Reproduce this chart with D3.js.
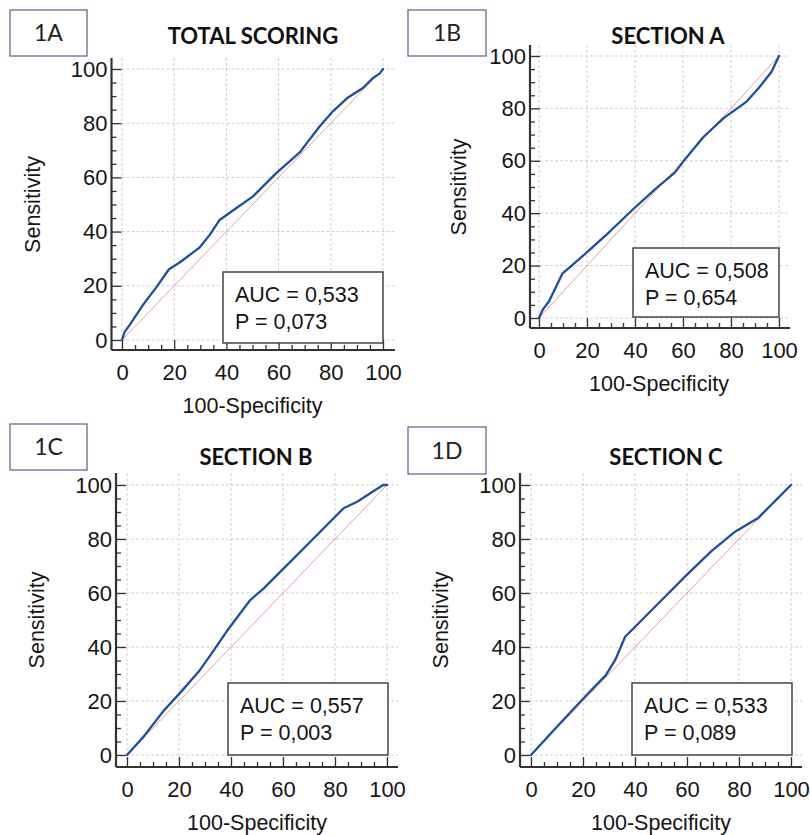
<!DOCTYPE html>
<html>
<head>
<meta charset="utf-8">
<script src="https://cdn.jsdelivr.net/npm/d3@7"></script>
<style>
  body { margin: 0; background: #fff; }
  .axis text { font-family: "Liberation Sans", Arial, sans-serif; font-size: 22px; fill: #151515; }
  .axis path.domain { display: none; }
  .axis line { stroke: #333; stroke-width: 1.3; }
  .grid line { stroke: #d0d0d0; stroke-width: 1; stroke-dasharray: 3,2; }
  .axisline { stroke: #333; stroke-width: 2.2; }
  .roc { fill: none; stroke: #1c4f9f; stroke-width: 2.3; stroke-linejoin: round; stroke-linecap: round; }
  .diag { stroke: #e2a3a3; stroke-width: 1; }
  .lbl { font-family: "Liberation Sans", Arial, sans-serif; font-size: 21.5px; fill: #151515; }
  .title { font-family: Lato, "Open Sans", sans-serif; font-weight: bold; font-size: 22px; fill: #111; }
  .tag { font-family: Lato, "Open Sans", sans-serif; font-size: 23px; fill: #222; }
  .tagbox { fill: none; stroke: #5d6f99; stroke-width: 1.3; }
  .aucbox { fill: #fff; stroke: #444; stroke-width: 1.5; }
</style>
</head>
<body>
<svg id="chart" width="810" height="835"></svg>
<script>
// panel tags and titles
const tags = ["1A", "1B", "1C", "1D"];
const titles = ["TOTAL SCORING", "SECTION A", "SECTION B", "SECTION C"];
const aucLabels = ["AUC = 0,533", "AUC = 0,508", "AUC = 0,557", "AUC = 0,533"];
const pLabels = ["P = 0,073", "P = 0,654", "P = 0,003", "P = 0,089"];
const majorTicks = [0, 20, 40, 60, 80, 100];
const xTitle = "100-Specificity";
const yTitle = "Sensitivity";

// ROC points (100-specificity, sensitivity)
const fprTotal = [0, 1, 2.9, 8, 13.2, 18, 22.1, 29.8, 33.6, 37.4, 42.5, 50.2, 59.1, 68.1, 71.3, 75.7, 80.8, 86.6, 92.3, 96.2, 98.7, 100];
const tprTotal = [0, 3, 5.5, 12.9, 19.5, 26.1, 28.6, 34.2, 38.8, 44.3, 47.8, 53, 61.6, 69.2, 73.3, 78.8, 84.4, 89.5, 93, 96.7, 98.3, 100];

const fprA = [0, 1.7, 4.2, 7.2, 9.7, 13.5, 21.1, 29.5, 39.2, 48.9, 56.6, 60.1, 68.4, 76.8, 86.5, 92, 96.9, 100];
const tprA = [0, 3.4, 6.4, 12.1, 16.9, 19.9, 26, 33, 41.5, 49.6, 55.5, 59.7, 69, 76.2, 82.6, 88.3, 94, 100];

const fprB = [0, 6.4, 14.1, 20.5, 27.6, 32.1, 38.5, 47.4, 52.6, 60.3, 70.5, 83.3, 88.5, 98.5, 100];
const tprB = [0, 6.8, 16.4, 23.1, 30.9, 37, 46, 57.4, 61.7, 69.1, 79, 91.4, 93.8, 100, 100];

const fprC = [0, 10.6, 20.2, 28.8, 32.4, 36.2, 41.4, 50.3, 59.9, 69.5, 78.5, 87.5, 100];
const tprC = [0, 11.1, 21, 29.6, 35.2, 43.8, 48.8, 57.4, 66.7, 75.6, 82.7, 87.9, 100];

const curves = [[fprTotal, tprTotal], [fprA, tprA], [fprB, tprB], [fprC, tprC]];

// layout of each panel, in page pixels
const panels = [
  {x0: 122, x1: 383, y0: 340, y1: 69, ax: 111.5, ay: 350, top: 58, right: 395, tag: [10, 10, 77, 46], titleX: 253, titleY: 44, auc: [223, 272, 160, 71], syX: 32},
  {x0: 539, x1: 779, y0: 318, y1: 56, ax: 530, ay: 328, top: 45, right: 790, tag: [408, 10, 78, 46], titleX: 668, titleY: 44, auc: [633, 248, 146, 69], syX: 458},
  {x0: 127, x1: 387, y0: 755, y1: 485, ax: 116, ay: 767, top: 473, right: 398, tag: [10, 424, 77, 46], titleX: 256, titleY: 465, auc: [228, 683, 160, 72], syX: 36},
  {x0: 531, x1: 791, y0: 755, y1: 485, ax: 520, ay: 767, top: 473, right: 802, tag: [408, 427, 78, 47], titleX: 666, titleY: 465, auc: [632, 683, 160, 72], syX: 440}
];

const svg = d3.select("#chart");
const minorTicks = d3.range(0, 101, 5).filter(v => v % 20 !== 0);

panels.forEach((p, i) => {
    const g = svg.append("g");
    const x = d3.scaleLinear().domain([0, 100]).range([p.x0, p.x1]);
    const y = d3.scaleLinear().domain([0, 100]).range([p.y0, p.y1]);

    // tag box
    g.append("rect").attr("class", "tagbox")
        .attr("x", p.tag[0]).attr("y", p.tag[1]).attr("width", p.tag[2]).attr("height", p.tag[3]);
    g.append("text").attr("class", "tag")
        .attr("x", p.tag[0] + p.tag[2] / 2).attr("y", p.tag[1] + p.tag[3] / 2 + 8)
        .attr("text-anchor", "middle").text(tags[i]);

    g.append("text").attr("class", "title")
        .attr("x", p.titleX).attr("y", p.titleY)
        .attr("text-anchor", "middle").text(titles[i]);

    // dashed grid
    const grid = g.append("g").attr("class", "grid");
    grid.selectAll(".gv").data(majorTicks).enter().append("line")
        .attr("x1", d => x(d)).attr("x2", d => x(d))
        .attr("y1", p.top).attr("y2", p.ay);
    grid.selectAll(".gh").data(majorTicks).enter().append("line")
        .attr("y1", d => y(d)).attr("y2", d => y(d))
        .attr("x1", p.ax).attr("x2", p.right);

    // axes with inward ticks
    g.append("g").attr("class", "axis")
        .attr("transform", `translate(${p.ax},0)`)
        .call(d3.axisLeft(y).tickValues(majorTicks).tickSize(-10).tickPadding(4));
    g.append("g").attr("class", "axis")
        .attr("transform", `translate(${p.ax},0)`)
        .call(d3.axisLeft(y).tickValues(minorTicks).tickSize(-5).tickFormat(""));
    g.append("g").attr("class", "axis")
        .attr("transform", `translate(0,${p.ay})`)
        .call(d3.axisBottom(x).tickValues(majorTicks).tickSize(-10).tickPadding(14));
    g.append("g").attr("class", "axis")
        .attr("transform", `translate(0,${p.ay})`)
        .call(d3.axisBottom(x).tickValues(minorTicks).tickSize(-5).tickFormat(""));

    g.append("line").attr("class", "axisline")
        .attr("x1", p.ax).attr("x2", p.ax).attr("y1", p.top).attr("y2", p.ay);
    g.append("line").attr("class", "axisline")
        .attr("x1", p.ax).attr("x2", p.right).attr("y1", p.ay).attr("y2", p.ay);

    // reference diagonal and ROC curve
    g.append("line").attr("class", "diag")
        .attr("x1", x(0)).attr("y1", y(0)).attr("x2", x(100)).attr("y2", y(100));
    const pts = curves[i][0].map((v, k) => [v, curves[i][1][k]]);
    g.append("path").datum(pts).attr("class", "roc")
        .attr("d", d3.line().x(d => x(d[0])).y(d => y(d[1])));

    // axis titles
    g.append("text").attr("class", "lbl")
        .attr("x", (p.x0 + p.x1) / 2).attr("y", p.ay + 63)
        .attr("text-anchor", "middle").text(xTitle);
    g.append("text").attr("class", "lbl")
        .attr("transform", `translate(${p.syX + 8},${(p.y0 + p.y1) / 2}) rotate(-90)`)
        .attr("text-anchor", "middle").text(yTitle);

    // AUC box
    g.append("rect").attr("class", "aucbox")
        .attr("x", p.auc[0]).attr("y", p.auc[1]).attr("width", p.auc[2]).attr("height", p.auc[3]);
    g.append("text").attr("class", "lbl")
        .attr("x", p.auc[0] + 12).attr("y", p.auc[1] + 30).text(aucLabels[i]);
    g.append("text").attr("class", "lbl")
        .attr("x", p.auc[0] + 12).attr("y", p.auc[1] + 57).text(pLabels[i]);
});
</script>
</body>
</html>
